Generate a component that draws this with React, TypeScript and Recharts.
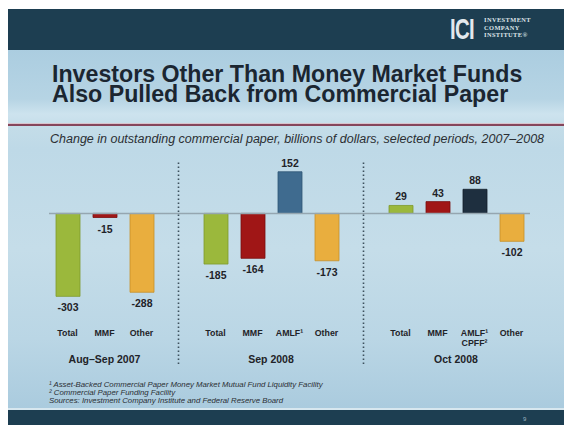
import React from "react";
import { BarChart, Bar, XAxis, YAxis, Cell, LabelList, ReferenceLine, ReferenceArea, Label } from "recharts";

// one slot per bar, plus a spacer slot where each dotted divider sits
const KEYS = ["t07", "m07", "o07", "gap1", "tsep", "msep", "asep", "osep", "gap2", "toct", "moct", "aoct", "ooct"];
const TICK_LABELS: string[][] = [
  ["Total"], ["MMF"], ["Other"], [],
  ["Total"], ["MMF"], ["AMLF¹"], ["Other"], [],
  ["Total"], ["MMF"], ["AMLF¹", "CPFF²"], ["Other"],
];
const VALUES: (number | null)[] = [-303, -15, -288, null, -185, -164, 152, -173, null, 29, 43, 88, -102];
const COLORS = [
  "#9bb83c", "#a01616", "#e9ae3e", "none",
  "#9bb83c", "#a01616", "#3f6b8f", "#e9ae3e", "none",
  "#9bb83c", "#a01616", "#1e2f3f", "#e9ae3e",
];
const EDGES = [
  "#7f9a2c", "#7a0e0e", "#c58f2a", "none",
  "#7f9a2c", "#7a0e0e", "#2f5575", "#c58f2a", "none",
  "#7f9a2c", "#7a0e0e", "#121d28", "#c58f2a",
];
const GROUP_LABELS = ["Aug–Sep 2007", "Sep 2008", "Oct 2008"];
const GROUP_FROM = ["t07", "tsep", "toct"];
const GROUP_TO = ["o07", "osep", "ooct"];
const DIVIDERS = ["gap1", "gap2"];

const TITLE = "Investors Other Than Money Market Funds Also Pulled Back from Commercial Paper";
const SUBTITLE = "Change in outstanding commercial paper, billions of dollars, selected periods, 2007–2008";
const FOOTNOTES = [
  "¹ Asset-Backed Commercial Paper Money Market Mutual Fund Liquidity Facility",
  "² Commercial Paper Funding Facility",
  "Sources: Investment Company Institute and Federal Reserve Board",
];

const data = KEYS.map((key, i) => ({ key, value: VALUES[i] }));

const FONT = "'Liberation Sans', Arial, sans-serif";
const INK = "#1f2328";

function CategoryTick(props: any) {
  const { x, y, payload } = props;
  const lines = TICK_LABELS[KEYS.indexOf(payload.value)] || [];
  return (
    <g>
      {lines.map((line, i) => (
        <text key={i} x={x} y={y - 28 + i * 10} textAnchor="middle" fontFamily={FONT}
          fontWeight={700} fontSize={8.8} fill={INK}>
          {line}
        </text>
      ))}
    </g>
  );
}

function ValueLabel(props: any) {
  const { x, y, width, height, value } = props;
  if (value == null) return null;
  const top = Math.min(y, y + height);
  const bottom = Math.max(y, y + height);
  const cx = x + width / 2;
  const ty = value >= 0 ? top - 5 : bottom + 15;
  return (
    <text x={cx} y={ty} textAnchor="middle" fontFamily={FONT} fontWeight={700} fontSize={10.5} fill={INK}>
      {value}
    </text>
  );
}

export default function App() {
  return (
    <div style={{ position: "absolute", left: 0, top: 0, width: 564, height: 425, background: "#fff", overflow: "hidden", fontFamily: FONT }}>
      {/* slide background */}
      <div style={{
        position: "absolute", left: 8, top: 9, right: 0, bottom: 0,
        background: "linear-gradient(180deg, #9fc4da 0px, #abcde0 40px, #b6d4e4 90px, #cde3ee 105px, #c3dce8 120px, #bed9e7 140px, #c5dde9 240px, #bad6e5 330px, #aacbde 400px)",
      }} />
      {/* top band */}
      <div style={{ position: "absolute", left: 8, top: 9, right: 0, height: 41, background: "#1d3e51" }} />
      {/* logo */}
      <div style={{
        position: "absolute", left: 450, top: 12, fontSize: 30, fontWeight: 700, color: "#e3e9ed",
        letterSpacing: -1, transform: "scaleX(0.68)", transformOrigin: "left top", lineHeight: "34px",
      }}>ICI</div>
      <div style={{
        position: "absolute", left: 484, top: 16, fontFamily: "'Liberation Serif', serif", fontWeight: 700,
        fontSize: 6.4, lineHeight: "7.6px", color: "#dde4e9", letterSpacing: 0.4,
      }}>
        <div>INVESTMENT</div>
        <div>COMPANY</div>
        <div>INSTITUTE®</div>
      </div>
      {/* title, one text that wraps after "Funds" */}
      <div style={{
        position: "absolute", left: 52, top: 63.5, width: 480, fontSize: 23.2, fontWeight: 700, lineHeight: "20.5px",
        color: "#1b2631",
      }}>
        {TITLE}
      </div>
      {/* divider rule */}
      <div style={{ position: "absolute", left: 8, right: 0, top: 123, height: 1, background: "#d8c3cc" }} />
      <div style={{ position: "absolute", left: 8, right: 0, top: 124, height: 2, background: "#86465b" }} />
      {/* subtitle */}
      <div style={{
        position: "absolute", left: 50, top: 131.5, fontSize: 12.5, fontStyle: "italic", lineHeight: "14px",
        color: "#2b2f33", whiteSpace: "nowrap",
      }}>
        {SUBTITLE}
      </div>

      <div style={{ position: "absolute", left: 0, top: 0 }}>
        <BarChart width={564} height={425} data={data} margin={{ top: 160, right: 34, bottom: 60, left: 49 }} barSize={24}>
          <YAxis hide domain={[-550, 195]} />
          <XAxis dataKey="key" height={1} axisLine={false} tickLine={false} tickSize={0} tickMargin={0}
            interval={0} tick={<CategoryTick />} />
          <ReferenceLine y={0} stroke="#95a6b0" strokeWidth={1.5} />
          {DIVIDERS.map((k) => (
            <ReferenceLine key={k} x={k} stroke="#3d505d" strokeWidth={1.6} strokeDasharray="1.6 2.4" />
          ))}
          {GROUP_LABELS.map((g, i) => (
            <ReferenceArea key={g} x1={GROUP_FROM[i]} x2={GROUP_TO[i]} fill="none" fillOpacity={0} strokeOpacity={0} ifOverflow="visible">
              <Label value={g} position="insideBottom" offset={1} fill={INK} fontFamily={FONT} fontWeight={700} fontSize={10.5} />
            </ReferenceArea>
          ))}
          <Bar dataKey="value" isAnimationActive={false}>
            {data.map((d, i) => (
              <Cell key={d.key} fill={COLORS[i]} stroke={EDGES[i]} strokeWidth={0.8} />
            ))}
            <LabelList dataKey="value" content={<ValueLabel />} />
          </Bar>
        </BarChart>
      </div>

      {/* footnotes */}
      <div style={{
        position: "absolute", left: 49, top: 381, fontSize: 7.8, lineHeight: "8.2px", fontStyle: "italic",
        color: "#2a2e33", whiteSpace: "nowrap",
      }}>
        {FOOTNOTES.map((f) => (<div key={f}>{f}</div>))}
      </div>
      {/* bottom band */}
      <div style={{ position: "absolute", left: 8, right: 0, top: 408, height: 1.5, background: "#d7e7ef" }} />
      <div style={{ position: "absolute", left: 8, right: 0, top: 409.5, bottom: 0, background: "#1d3e51" }} />
      <div style={{ position: "absolute", left: 523, top: 416, fontSize: 6, color: "#9fb6c4" }}>9</div>
    </div>
  );
}
